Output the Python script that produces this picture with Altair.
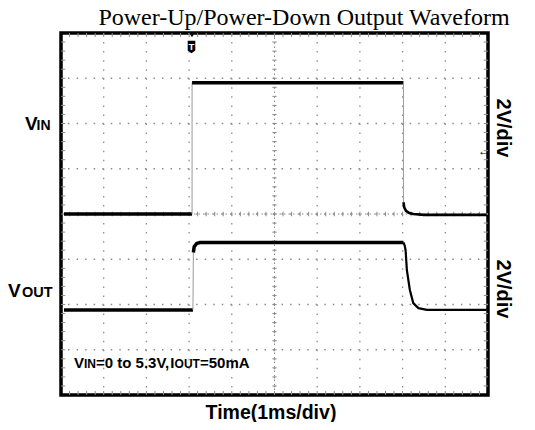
import altair as alt
import pandas as pd
import numpy as np

# ---- Trace data: time in ms (1 ms/div), level in screen divisions (2 V/div) ----
# VIN trace pieces
VIN_PART = ["low", "low", "up", "up", "high", "high", "dn", "dn",
            "decay", "decay", "decay", "decay", "decay", "decay", "decay"]
VIN_TIME = [0.07, 3.07, 3.07, 3.07, 3.07, 8.02, 8.02, 8.02,
            8.02, 8.04, 8.08, 8.14, 8.25, 8.5, 9.97]
VIN_LEVEL = [4.0, 4.0, 4.0, 6.9, 6.9, 6.9, 6.9, 4.26,
             4.26, 4.14, 4.07, 4.03, 4.0, 3.98, 3.98]

# VOUT trace pieces
VOUT_PART = ["low", "low", "up", "up", "high", "high", "high", "high", "high",
             "fall", "fall", "fall", "fall", "fall", "fall", "fall", "fall", "fall"]
VOUT_TIME = [0.07, 3.09, 3.09, 3.10, 3.10, 3.12, 3.18, 3.26, 8.02,
             8.02, 8.05, 8.07, 8.10, 8.17, 8.25, 8.37, 8.57, 9.97]
VOUT_LEVEL = [1.88, 1.88, 1.88, 3.15, 3.15, 3.28, 3.35, 3.37, 3.37,
              3.37, 3.30, 3.20, 2.76, 2.32, 2.03, 1.92, 1.88, 1.88]

TITLE = "Power-Up/Power-Down Output Waveform"
X_LABEL = "Time(1ms/div)"
SCALE_LABEL = "2V/div"

X_DIVS = 10
Y_DIVS = 8

STYLE = {
    "low": (3.5, "black"), "high": (3.5, "black"),
    "decay": (2.6, "black"), "fall": (2.2, "black"),
    "up": (1.0, "#9a9a9a"), "dn": (1.0, "#9a9a9a"),
}


def trace_df(name, parts, times, levels):
    rows = []
    for i, (p, t, v) in enumerate(zip(parts, times, levels)):
        w, c = STYLE[p]
        rows.append({"seg": f"{name}-{p}", "i": i, "t": t, "v": v, "w": w, "c": c})
    return pd.DataFrame(rows)


traces = pd.concat([
    trace_df("vin", VIN_PART, VIN_TIME, VIN_LEVEL),
    trace_df("vout", VOUT_PART, VOUT_TIME, VOUT_LEVEL),
], ignore_index=True)

xs = alt.Scale(domain=[0, X_DIVS], nice=False, zero=False)
ys = alt.Scale(domain=[0, Y_DIVS], nice=False, zero=False)

GRID = "#8c8c8c"

# dotted graticule
vgrid = pd.DataFrame({"x": list(range(1, X_DIVS))})
hgrid = pd.DataFrame({"y": list(range(1, Y_DIVS))})
vlines = alt.Chart(vgrid).mark_rule(color=GRID, strokeWidth=1.3, strokeDash=[1.5, 7.55]).encode(
    x=alt.X("x:Q", scale=xs, axis=None))
hlines = alt.Chart(hgrid).mark_rule(color=GRID, strokeWidth=1.3, strokeDash=[1.5, 7.04]).encode(
    y=alt.Y("y:Q", scale=ys, axis=None))

# minor ticks on centre lines and along the frame
xm = [round(k * 0.2, 2) for k in range(1, X_DIVS * 5)]
ym = [round(k * 0.2, 2) for k in range(1, Y_DIVS * 5)]
tick_rows = []
for x in xm:
    tick_rows.append({"x": x, "x2": x, "y": 4 - 0.05, "y2": 4 + 0.05})
    tick_rows.append({"x": x, "x2": x, "y": 0, "y2": 0.09})
    tick_rows.append({"x": x, "x2": x, "y": Y_DIVS - 0.09, "y2": Y_DIVS})
for y in ym:
    tick_rows.append({"x": 5 - 0.05, "x2": 5 + 0.05, "y": y, "y2": y})
    tick_rows.append({"x": 0, "x2": 0.1, "y": y, "y2": y})
    tick_rows.append({"x": X_DIVS - 0.1, "x2": X_DIVS, "y": y, "y2": y})
ticks = alt.Chart(pd.DataFrame(tick_rows)).mark_rule(color=GRID, strokeWidth=1).encode(
    x=alt.X("x:Q", scale=xs, axis=None), x2="x2:Q",
    y=alt.Y("y:Q", scale=ys, axis=None), y2="y2:Q")
centre = alt.Chart(pd.DataFrame({"x": [5], "y": [4]}))
cline_v = centre.mark_rule(color=GRID, strokeWidth=1, strokeDash=[1.5, 3]).encode(
    x=alt.X("x:Q", scale=xs, axis=None))
cline_h = centre.mark_rule(color=GRID, strokeWidth=1, strokeDash=[1.5, 3]).encode(
    y=alt.Y("y:Q", scale=ys, axis=None))

lines = alt.Chart(traces).mark_line(strokeCap="butt", strokeJoin="round").encode(
    x=alt.X("t:Q", scale=xs, axis=None),
    y=alt.Y("v:Q", scale=ys, axis=None),
    detail="seg:N",
    order="i:Q",
    strokeWidth=alt.StrokeWidth("w:Q", scale=None),
    color=alt.Color("c:N", scale=None),
)


def label(txt, px, py, size, bold=True, align="left", angle=0, font="Liberation Sans",
          color="black", baseline="alphabetic"):
    return alt.Chart(pd.DataFrame({"t": [txt]})).mark_text(
        font=font, fontSize=size, fontWeight="bold" if bold else "normal",
        align=align, baseline=baseline, angle=angle, color=color,
    ).encode(text="t:N", x=alt.value(px), y=alt.value(py))


texts = [
    label(TITLE, 243, -8.3, 24, bold=False, align="center", font="Liberation Serif"),
    label("V", -36, 97, 19),
    label("IN", -24.5, 97, 14),
    label("V", -53, 264, 19),
    label("OUT", -39, 264, 14.5),
    label("V", 13, 335, 15),
    label("IN", 23, 335, 12),
    label("=0 to 5.3V,", 35, 335, 15),
    label("I", 109.3, 335, 15),
    label("OUT", 113.6, 335, 12),
    label("=50mA", 139, 335, 15),
    label(X_LABEL, 210, 386, 19.5, align="center"),
    label(SCALE_LABEL, 442, 95, 20, align="center", angle=90, baseline="middle"),
    label(SCALE_LABEL, 442, 256, 20, align="center", angle=90, baseline="middle"),
    label("←", 423, 118, 12, align="center", baseline="middle"),
]

# trigger marker
trig = alt.Chart(pd.DataFrame({"a": [0]}))
trig_tri = trig.mark_point(shape="triangle-down", filled=True, color="black", size=30, opacity=1).encode(
    x=alt.value(131), y=alt.value(2))
trig_body = trig.mark_point(shape="M-0.6,-1L0.6,-1L0.6,0.55L0,1L-0.6,0.55Z", filled=True,
                            color="black", size=160, opacity=1).encode(
    x=alt.value(130.5), y=alt.value(14))
trig_t = label("T", 130.5, 13.5, 9.5, align="center", baseline="middle", color="white")

chart = alt.layer(
    vlines, hlines, cline_v, cline_h, ticks, lines,
    trig_tri, trig_body, trig_t, *texts,
).properties(
    width=427, height=362,
    padding={"left": 53, "top": 25, "right": 39, "bottom": 27},
    autosize=alt.AutoSizeParams(type="none"),
    background="white",
).configure_view(stroke="black", strokeWidth=3.5)

chart.save("out.html", embed_options={"renderer": "svg", "actions": False})
